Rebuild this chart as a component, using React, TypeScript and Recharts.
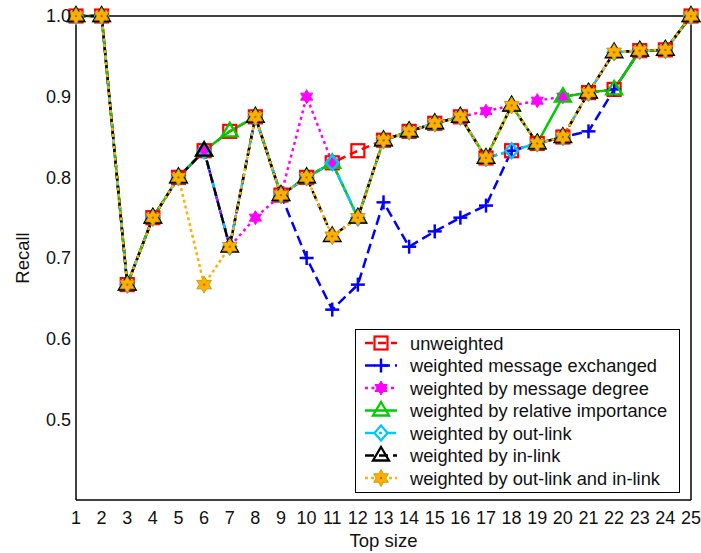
import React from 'react'
import { LineChart, Line, XAxis, YAxis } from 'recharts'

// top size on the x axis
const topSize = [1, 2, 3, 4, 5, 6, 7, 8, 9, 10, 11, 12, 13, 14, 15, 16, 17, 18, 19, 20, 21, 22, 23, 24, 25]
const recallTicks = [0.5, 0.6, 0.7, 0.8, 0.9, 1.0]

// recall per method
const unweighted = [1, 1, 0.667, 0.75, 0.8, 0.833, 0.857, 0.875, 0.778, 0.8, 0.818, 0.833, 0.846, 0.857, 0.867, 0.875, 0.824, 0.833, 0.842, 0.85, 0.905, 0.909, 0.957, 0.958, 1]
const msgExchanged = [1, 1, 0.667, 0.75, 0.8, 0.833, 0.714, 0.875, 0.778, 0.7, 0.636, 0.667, 0.769, 0.714, 0.733, 0.75, 0.765, 0.833, 0.842, 0.85, 0.857, 0.909, 0.957, 0.958, 1]
const msgDegree = [1, 1, 0.667, 0.75, 0.8, 0.833, 0.714, 0.75, 0.778, 0.9, 0.818, 0.75, 0.846, 0.857, 0.867, 0.875, 0.882, 0.889, 0.895, 0.9, 0.905, 0.955, 0.957, 0.958, 1]
const relImportance = [1, 1, 0.667, 0.75, 0.8, 0.833, 0.857, 0.875, 0.778, 0.8, 0.818, 0.75, 0.846, 0.857, 0.867, 0.875, 0.824, 0.889, 0.842, 0.9, 0.905, 0.909, 0.957, 0.958, 1]
const outLink = [1, 1, 0.667, 0.75, 0.8, 0.833, 0.714, 0.875, 0.778, 0.8, 0.818, 0.75, 0.846, 0.857, 0.867, 0.875, 0.824, 0.833, 0.842, 0.85, 0.905, 0.955, 0.957, 0.958, 1]
const inLink = [1, 1, 0.667, 0.75, 0.8, 0.833, 0.714, 0.875, 0.778, 0.8, 0.727, 0.75, 0.846, 0.857, 0.867, 0.875, 0.824, 0.889, 0.842, 0.85, 0.905, 0.955, 0.957, 0.958, 1]
const outInLink = [1, 1, 0.667, 0.75, 0.8, 0.667, 0.714, 0.875, 0.778, 0.8, 0.727, 0.75, 0.846, 0.857, 0.867, 0.875, 0.824, 0.889, 0.842, 0.85, 0.905, 0.955, 0.957, 0.958, 1]

const data = topSize.map((x, i) => ({
  x,
  unweighted: unweighted[i],
  msgExchanged: msgExchanged[i],
  msgDegree: msgDegree[i],
  relImportance: relImportance[i],
  outLink: outLink[i],
  inLink: inLink[i],
  outInLink: outInLink[i],
}))

const FONT = '"Liberation Sans", Arial, Helvetica, sans-serif'
const W = 701
const H = 553

type MarkerKind = 'square' | 'plus' | 'hexagram' | 'triangle' | 'diamond' | 'star'

const SERIES: { key: string; name: string; color: string; dash?: string; marker: MarkerKind }[] = [
  { key: 'unweighted', name: 'unweighted', color: '#ff0000', dash: '8 5', marker: 'square' },
  { key: 'msgExchanged', name: 'weighted message exchanged', color: '#0000ff', dash: '10 5', marker: 'plus' },
  { key: 'msgDegree', name: 'weighted by message degree', color: '#ff00ff', dash: '3 3.5', marker: 'hexagram' },
  { key: 'relImportance', name: 'weighted by relative importance', color: '#00cc00', marker: 'triangle' },
  { key: 'outLink', name: 'weighted by out-link', color: '#00c8ff', dash: '10 4 3 4', marker: 'diamond' },
  { key: 'inLink', name: 'weighted by in-link', color: '#000000', dash: '9 5', marker: 'triangle' },
  { key: 'outInLink', name: 'weighted by out-link and in-link', color: '#ffb000', dash: '3 3', marker: 'star' },
]

function starPoints(cx: number, cy: number, r: number) {
  const pts: string[] = []
  for (let k = 0; k < 12; k++) {
    const a = ((-90 + k * 30) * Math.PI) / 180
    const rr = k % 2 === 0 ? r : r / Math.sqrt(3)
    pts.push(`${cx + rr * Math.cos(a)},${cy + rr * Math.sin(a)}`)
  }
  return pts.join(' ')
}

function Marker({ kind, cx, cy, color }: { kind: MarkerKind; cx: number; cy: number; color: string }) {
  switch (kind) {
    case 'square':
      return <rect x={cx - 6.5} y={cy - 6.5} width={13} height={13} fill="none" stroke={color} strokeWidth={2.2} />
    case 'plus':
      return (
        <g stroke={color} strokeWidth={2.5}>
          <line x1={cx - 7} y1={cy} x2={cx + 7} y2={cy} />
          <line x1={cx} y1={cy - 7} x2={cx} y2={cy + 7} />
        </g>
      )
    case 'hexagram':
      return <polygon points={starPoints(cx, cy, 7)} fill={color} stroke={color} strokeWidth={1} />
    case 'triangle':
      return (
        <polygon
          points={`${cx},${cy - 8.5} ${cx + 8},${cy + 5} ${cx - 8},${cy + 5}`}
          fill="none"
          stroke={color}
          strokeWidth={2.3}
        />
      )
    case 'diamond':
      return (
        <polygon
          points={`${cx},${cy - 7.5} ${cx + 6.5},${cy} ${cx},${cy + 7.5} ${cx - 6.5},${cy}`}
          fill="none"
          stroke={color}
          strokeWidth={2.3}
        />
      )
    case 'star':
      return (
        <g>
          <polygon points={starPoints(cx, cy, 8.5)} fill={color} stroke="#c88a00" strokeWidth={0.8} />
          <circle cx={cx} cy={cy} r={1.2} fill="#b07000" />
        </g>
      )
  }
  return null
}

function makeDot(kind: MarkerKind, color: string) {
  return (props: any) => {
    const { cx, cy, index } = props
    if (cx == null || cy == null) return <g key={`d-${index}`} />
    return (
      <g key={`d-${index}`}>
        <Marker kind={kind} cx={cx} cy={cy} color={color} />
      </g>
    )
  }
}

function LegendBox() {
  return (
    <svg
      width={325}
      height={164}
      style={{ position: 'absolute', left: 355, top: 329, fontFamily: FONT }}
    >
      <rect x={0.5} y={0.5} width={324} height={163} fill="#fff" stroke="#000" strokeWidth={1} />
      {SERIES.map((s, i) => {
        const y = 14 + i * 22.5
        return (
          <g key={s.key}>
            <line x1={10} y1={y} x2={42} y2={y} stroke={s.color} strokeWidth={2.5} strokeDasharray={s.dash} />
            <Marker kind={s.marker} cx={26} cy={y} color={s.color} />
            <text x={55} y={y} dy="0.36em" fontSize={18.3} fill="#111">
              {s.name}
            </text>
          </g>
        )
      })}
    </svg>
  )
}

export default function App() {
  const tickStyle = { fontSize: 18, fill: '#111', fontFamily: FONT }
  const labelStyle = { fontSize: 18.5, fill: '#111', fontFamily: FONT }
  return (
    <div style={{ position: 'relative', width: W, height: H, fontFamily: FONT, background: '#fff' }}>
      {/* let the chart use the whole window */}
      <style>{'html, body { margin: 0; padding: 0; }'}</style>
      <LineChart width={W} height={H} data={data} margin={{ top: 16, right: 10, left: 16, bottom: 23 }}>
        <XAxis
          dataKey="x"
          type="number"
          domain={[1, 25]}
          ticks={topSize}
          interval={0}
          height={30}
          tick={tickStyle}
          tickLine={false}
          tickSize={6}
          tickMargin={5}
          axisLine={{ stroke: '#000', strokeWidth: 1.5 }}
          label={{ value: 'Top size', position: 'bottom', offset: 4, style: labelStyle }}
        />
        <XAxis
          xAxisId="bt"
          dataKey="x"
          type="number"
          domain={[1, 25]}
          ticks={topSize}
          interval={0}
          orientation="bottom"
          mirror
          tick={false}
          tickSize={6}
          axisLine={false}
          tickLine={{ stroke: '#000', strokeWidth: 1 }}
        />
        <XAxis
          xAxisId="top"
          dataKey="x"
          type="number"
          domain={[1, 25]}
          ticks={topSize}
          interval={0}
          orientation="top"
          mirror
          tick={false}
          tickSize={6}
          axisLine={{ stroke: '#000', strokeWidth: 1.5 }}
          tickLine={{ stroke: '#000', strokeWidth: 1 }}
        />
        <YAxis
          type="number"
          domain={[0.4, 1]}
          ticks={recallTicks}
          width={60}
          tick={tickStyle}
          tickFormatter={(v: number) => v.toFixed(1)}
          tickLine={false}
          tickSize={3}
          tickMargin={2}
          axisLine={{ stroke: '#000', strokeWidth: 1.5 }}
          label={{
            value: 'Recall',
            angle: -90,
            position: 'insideLeft',
            offset: 6,
            style: { ...labelStyle, textAnchor: 'middle' },
          }}
        />
        <YAxis
          yAxisId="lt"
          type="number"
          domain={[0.4, 1]}
          ticks={recallTicks}
          orientation="left"
          mirror
          tick={false}
          tickSize={6}
          axisLine={false}
          tickLine={{ stroke: '#000', strokeWidth: 1 }}
        />
        <YAxis
          yAxisId="right"
          type="number"
          domain={[0.4, 1]}
          ticks={recallTicks}
          orientation="right"
          mirror
          tick={false}
          tickSize={6}
          axisLine={{ stroke: '#000', strokeWidth: 1.5 }}
          tickLine={{ stroke: '#000', strokeWidth: 1 }}
        />
        {SERIES.map((s) => (
          <Line
            key={s.key}
            dataKey={s.key}
            name={s.name}
            type="linear"
            stroke={s.color}
            strokeWidth={2.5}
            strokeDasharray={s.dash}
            dot={makeDot(s.marker, s.color)}
            activeDot={false}
            isAnimationActive={false}
          />
        ))}
      </LineChart>
      <LegendBox />
    </div>
  )
}
